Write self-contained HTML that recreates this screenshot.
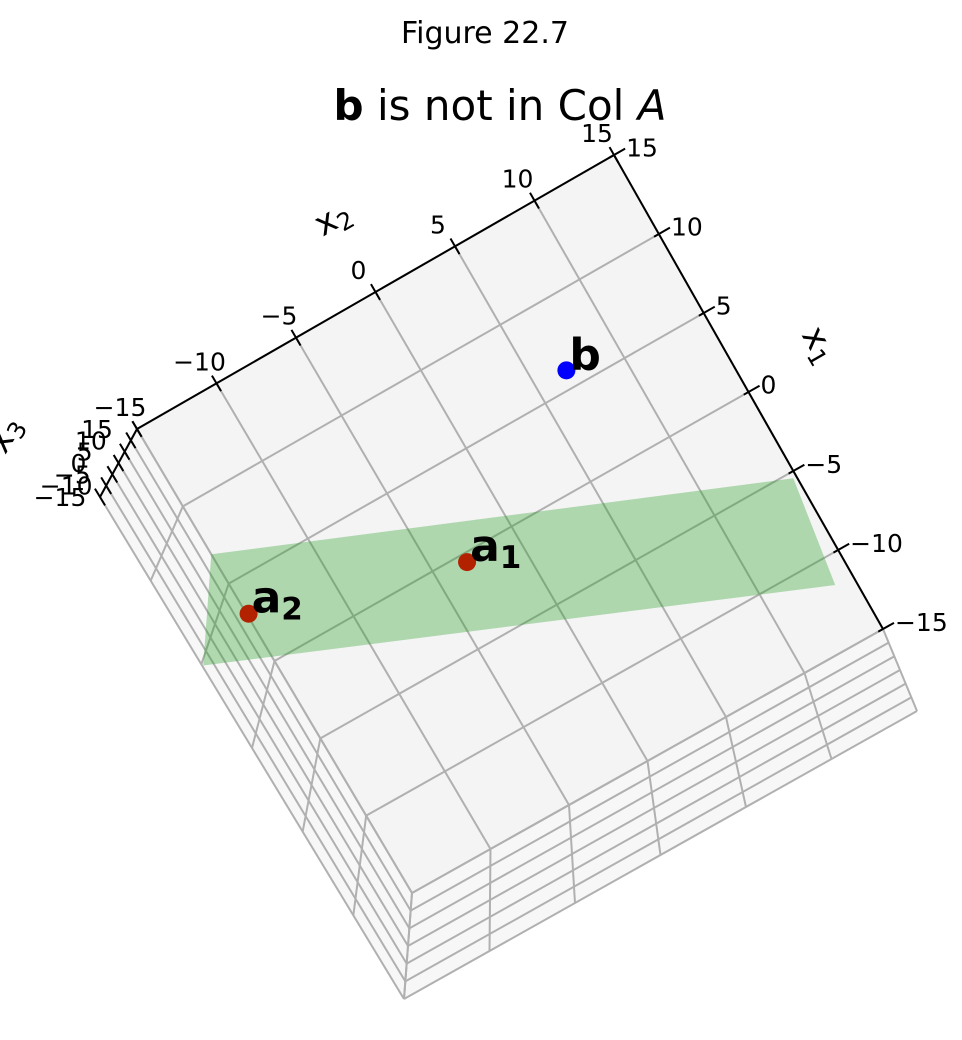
<!DOCTYPE html>
<html><head><meta charset="utf-8"><style>
html,body{margin:0;padding:0;background:#fff;}
svg{display:block;font-family:"DejaVu Sans","Liberation Sans",sans-serif;}
</style></head><body>
<svg id="chart" width="962" height="1040" viewBox="0 0 962 1040">
<text x="485" y="43" font-size="30" text-anchor="middle">Figure 22.7</text>
<text x="500" y="120" font-size="42" text-anchor="middle"><tspan font-weight="bold">b</tspan> is not in Col <tspan font-style="italic">A</tspan></text>
<g id="panes"></g><g id="grid"></g><g id="plane"></g><g id="axes"></g><g id="pts"></g>
</svg>
<script>
const ticks = [-15,-10,-5,0,5,10,15];
const tickLabels = ["\u221215","\u221210","\u22125","0","5","10","15"];
const planeX1 = [6.9,-5.35,-11.6,1.74];
const planeX2 = [-15,14.8,13.9,-18.5];
const planeX3 = [15,15,15,15];
const pointNames = ["b","a1","a2"];
const pointX1 = [6,-0.5,3];
const pointX2 = [6.9,-3.1,-14.9];
const pointX3 = [15,15,15];
const pointColors = ["#0000ff","#b22200","#b22200"];

const T=[[137,429],[614,155],[412,893],[883,629]];
const B=[[100,497],[651,223],[404,999],[917,711]];
function lerp(a,b,f){return [a[0]+(b[0]-a[0])*f,a[1]+(b[1]-a[1])*f];}
function proj(x1,x2,x3){
  const s=(15-x1)/30,t=(x2+15)/30,w=(15-x3)/30;
  const bl=C=>lerp(lerp(C[0],C[1],t),lerp(C[2],C[3],t),s);
  return lerp(bl(T),bl(B),w);
}
const NS="http://www.w3.org/2000/svg";
function mk(tag,attrs,parent){const e=document.createElementNS(NS,tag);for(const k in attrs)e.setAttribute(k,attrs[k]);document.getElementById(parent).appendChild(e);return e;}
function pts(arr){return arr.map(p=>p[0].toFixed(1)+","+p[1].toFixed(1)).join(" ");}

let e;
e=mk('polygon',{points:pts([proj(15,-15,15),proj(-15,-15,15),proj(-15,-15,-15),proj(15,-15,-15)]),fill:'#f7f7f7'},'panes');


e=mk('polygon',{points:pts([proj(-15,-15,15),proj(-15,15,15),proj(-15,15,-15),proj(-15,-15,-15)]),fill:'#f7f7f7'},'panes');


e=mk('polygon',{points:pts([proj(15,-15,15),proj(15,15,15),proj(-15,15,15),proj(-15,-15,15)]),fill:'#f4f4f4'},'panes');



function gl(a,b,name){const l=mk('line',{x1:a[0],y1:a[1],x2:b[0],y2:b[1],stroke:'#b0b0b0','stroke-width':2},'grid');

}
ticks.forEach(v=>{
  gl(proj(15,v,15),proj(-15,v,15),'grid-x2');
  gl(proj(v,-15,15),proj(v,15,15),'grid-x1');
  gl(proj(v,-15,15),proj(v,-15,-15),'grid-side-x1');
  gl(proj(-15,v,15),proj(-15,v,-15),'grid-side-x2');
  gl(proj(15,-15,v),proj(-15,-15,v),'grid-side-x3');
  gl(proj(-15,-15,v),proj(-15,15,v),'grid-side-x3b');
});

e=mk('polygon',{points:pts(planeX1.map((v,i)=>proj(v,planeX2[i],planeX3[i]))),fill:'#2ca02c','fill-opacity':0.35},'plane');



function al(a,b,name){const l=mk('line',{x1:a[0],y1:a[1],x2:b[0],y2:b[1],stroke:'#000','stroke-width':2},'axes');

}
al(proj(15,-15,15),proj(15,15,15),'x2-axis-line');
al(proj(15,15,15),proj(-15,15,15),'x1-axis-line');
al(proj(15,-15,15),proj(15,-15,-15),'x3-axis-line');
function tl(x,y,txt,name,anchor){const t=mk('text',{x:x,y:y,'font-size':25,'text-anchor':anchor||'middle'},'axes');t.textContent=txt;

}
ticks.forEach((v,i)=>{
  let p=proj(15,v,15),q=proj(15.5,v,15),r=proj(14.5,v,15);
  al(q,r,'x2-tick');
  tl(p[0]-17,p[1]-13,tickLabels[i],'x2-tick-label');
  p=proj(v,15,15);q=proj(v,15.7,15);r=proj(v,14.7,15);
  al(q,r,'x1-tick');
  tl(q[0]+1,q[1]+8,tickLabels[i],'x1-tick-label','start');
  p=proj(15,-15,v);q=proj(15.5,-15,v);r=proj(14.5,-15,v);
  al(q,r,'x3-tick');
  tl(p[0]-40,p[1]+9,tickLabels[i],'x3-tick-label');
});
function axl(x,y,rot,sub,name){const t=mk('text',{x:x,y:y,'font-size':34,'text-anchor':'middle',transform:`rotate(${rot} ${x} ${y})`},'axes');
t.innerHTML='x<tspan font-size="24" dy="6">'+sub+'</tspan>';

}
axl(338,228,-30,'2','x2-axis-title');
axl(810,350,60,'1','x1-axis-title');
axl(14,440,-60,'3','x3-axis-title');

pointNames.forEach((n,i)=>{
  const p=proj(pointX1[i],pointX2[i],pointX3[i]);
  const c=mk('circle',{cx:p[0],cy:p[1],r:9,fill:pointColors[i]},'pts');
  
  
  const t=mk('text',{x:p[0]+3,y:p[1]-1,'font-size':44,'font-weight':'bold'},'pts');
  t.innerHTML=n.length>1?n[0]+'<tspan font-size="31" dy="7">'+n[1]+'</tspan>':n;
  
  
});
</script>
</body></html>
